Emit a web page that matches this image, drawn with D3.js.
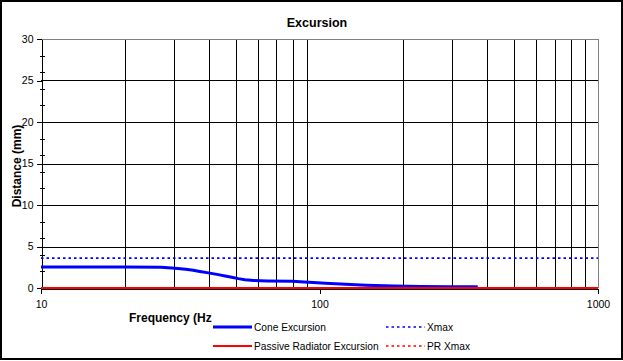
<!DOCTYPE html>
<html><head><meta charset="utf-8">
<script src="https://cdn.jsdelivr.net/npm/d3@7"></script>
<style>body{margin:0;background:#fff}svg{display:block;font-family:Arial,"Liberation Sans",sans-serif}</style>
</head><body><svg id="c" width="623" height="361"></svg>
<script>
// Data
const coneFreq = [10, 20, 27, 30.3, 33.1, 35.2, 37.2, 39.4, 41.3, 43.3, 45.8, 48.4, 51.1, 54, 58, 65, 80, 88, 95, 105, 124, 147, 185, 230, 300, 370];
const coneExc  = [2.53, 2.53, 2.5, 2.37, 2.25, 2.13, 2.0, 1.85, 1.73, 1.61, 1.45, 1.29, 1.13, 1.0, 0.9, 0.85, 0.82, 0.72, 0.65, 0.58, 0.45, 0.33, 0.24, 0.19, 0.16, 0.15];
const prFreq = [10, 1000];
const prExc = [0, 0];
const xmaxFreq = [10, 1000];
const xmaxVal = [3.6, 3.6];
const prXmaxVal = [0, 0];
const yTicks = [0, 5, 10, 15, 20, 25, 30];
const xTicks = [10, 100, 1000];
const xGrid = [20, 30, 40, 50, 60, 70, 80, 90, 200, 300, 400, 500, 600, 700, 800, 900];
const yMinor = [2, 4, 6, 8, 12, 14, 16, 18, 22, 24, 26, 28];
const seriesNames = ["Cone Excursion", "Passive Radiator Excursion", "Xmax", "PR Xmax"];

const svg = d3.select("#c");
const x = d3.scaleLog().domain([10, 1000]).range([41, 598]);
const y = d3.scaleLinear().domain([0, 30]).range([288, 39]);

svg.append("rect").attr("x",1).attr("y",1).attr("width",621).attr("height",358).attr("fill","#fff").attr("stroke","#000").attr("stroke-width",2);

// gridlines
const g = svg.append("g").attr("shape-rendering","crispEdges");
g.selectAll(".vg").data(xGrid).join("line")
  .attr("x1",d=>Math.round(x(d))+0.5).attr("x2",d=>Math.round(x(d))+0.5)
  .attr("y1",y(30)).attr("y2",y(0)).attr("stroke","#000");
g.selectAll(".hg").data(yTicks.filter(d=>d>0&&d<30)).join("line")
  .attr("x1",x(10)).attr("x2",x(1000))
  .attr("y1",d=>Math.round(y(d))+0.5).attr("y2",d=>Math.round(y(d))+0.5).attr("stroke","#000");
g.append("line").attr("x1",x(10)).attr("x2",x(1000)+0.5).attr("y1",Math.round(y(30))+0.5).attr("y2",Math.round(y(30))+0.5).attr("stroke","#808080");
g.append("line").attr("x1",Math.round(x(1000))+0.5).attr("x2",Math.round(x(1000))+0.5).attr("y1",y(30)).attr("y2",y(0)).attr("stroke","#808080");

// axes
const yAxis = d3.axisLeft(y).tickValues(yTicks).tickSize(5).tickPadding(3).tickSizeOuter(0);
const ya = svg.append("g").attr("transform",`translate(${Math.round(x(10))+0.5},0)`).attr("shape-rendering","crispEdges").call(yAxis);
ya.selectAll("text").attr("font-size",10.5).attr("font-family","Arial").attr("fill","#000");
ya.select(".domain").attr("stroke","#000");
ya.selectAll(".minor").data(yMinor).join("line").attr("class","minor")
  .attr("x1",-2).attr("x2",3).attr("y1",d=>Math.round(y(d))+0.5).attr("y2",d=>Math.round(y(d))+0.5).attr("stroke","#000");

const xAxis = d3.axisBottom(x).tickValues(xTicks).tickFormat(d3.format("d")).tickSize(5).tickPadding(7).tickSizeOuter(0);
const xa = svg.append("g").attr("transform",`translate(0,${Math.round(y(0))+0.5})`).attr("shape-rendering","crispEdges").call(xAxis);
xa.selectAll("text").attr("font-size",10.5).attr("font-family","Arial").attr("fill","#000");
xa.select(".domain").attr("stroke","#000");

// series
const line = d3.line().x(d=>x(d[0])).y(d=>y(d[1]));
svg.append("path").datum(coneFreq.map((f,i)=>[f,coneExc[i]])).attr("d",line)
  .attr("fill","none").attr("stroke","#0000ff").attr("stroke-width",3);
svg.append("path").datum(prFreq.map((f,i)=>[f,prExc[i]])).attr("d",line)
  .attr("fill","none").attr("stroke","#ff0000").attr("stroke-width",2);
svg.append("path").datum(xmaxFreq.map((f,i)=>[f,xmaxVal[i]])).attr("d",line)
  .attr("fill","none").attr("stroke","#0000ff").attr("stroke-width",1.6).attr("stroke-dasharray","2.5,3");
svg.append("path").datum(xmaxFreq.map((f,i)=>[f,prXmaxVal[i]])).attr("d",line)
  .attr("fill","none").attr("stroke","#ff0000").attr("stroke-width",1.6).attr("stroke-dasharray","2.5,3");

// titles
svg.append("text").attr("x",317).attr("y",27).attr("text-anchor","middle").attr("font-size",12.5).attr("font-weight","bold").text("Excursion");
svg.append("text").attr("transform","translate(21,166) rotate(-90)").attr("text-anchor","middle").attr("font-size",12).attr("font-weight","bold").text("Distance (mm)");
svg.append("text").attr("x",129).attr("y",322).attr("font-size",12).attr("font-weight","bold").text("Frequency (Hz)");

// legend
const lg = svg.append("g");
lg.append("rect").attr("x",212).attr("y",311).attr("width",300).attr("height",45).attr("fill","#fff");
const leg = [
  {name:seriesNames[0], color:"#0000ff", w:3, dash:null, lx:213, ly:327},
  {name:seriesNames[1], color:"#ff0000", w:2, dash:null, lx:213, ly:346},
  {name:seriesNames[2], color:"#0000ff", w:1.6, dash:"2.5,3", lx:386, ly:327},
  {name:seriesNames[3], color:"#ff0000", w:1.6, dash:"2.5,3", lx:386, ly:346}
];
leg.forEach(l=>{
  lg.append("line").attr("x1",l.lx).attr("x2",l.lx+39).attr("y1",l.ly).attr("y2",l.ly)
    .attr("stroke",l.color).attr("stroke-width",l.w).attr("stroke-dasharray",l.dash);
  lg.append("text").attr("x",l.lx+41).attr("y",l.ly+4).attr("font-size",10.2).text(l.name);
});
</script></body></html>
